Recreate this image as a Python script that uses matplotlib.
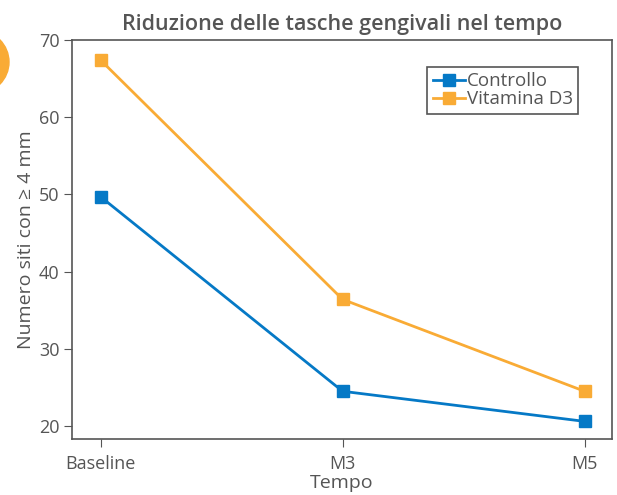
import matplotlib
matplotlib.use("Agg")
import matplotlib.pyplot as plt
from matplotlib.patches import Circle

# data
tempi = ["Baseline", "M3", "M5"]
controllo = [49.7, 24.5, 20.6]
vitamina_d3 = [67.4, 36.4, 24.5]

blu = "#0579c6"
arancio = "#f9ab35"
grigio = "#555555"

plt.rcParams['font.family'] = ['Open Sans', 'DejaVu Sans']
plt.rcParams['text.color'] = grigio
plt.rcParams['axes.labelcolor'] = grigio
plt.rcParams['xtick.color'] = grigio
plt.rcParams['ytick.color'] = grigio

fig = plt.figure(figsize=(6.17, 4.95), dpi=100)
ax = fig.add_axes([72 / 617, 1 - 439.3 / 495, 540 / 617, 399.3 / 495])

x = list(range(len(tempi)))
ax.plot(x, controllo, marker='s', markersize=8, color=blu, linewidth=2, label="Controllo")
ax.plot(x, vitamina_d3, marker='s', markersize=8, color=arancio, linewidth=2, label="Vitamina D3")

ax.set_xlim(-0.118, 2.113)
ax.set_ylim(18.28, 70)
ax.set_yticks([20, 30, 40, 50, 60, 70])
ax.set_xticks(x)
ax.set_xticklabels(tempi)
ax.tick_params(labelsize=13, length=6, color=grigio)
ax.tick_params(axis='x', pad=5)
ax.tick_params(axis='y', pad=3)
for s in ax.spines.values():
    s.set_color(grigio)
    s.set_linewidth(1.2)

ax.set_xlabel("Tempo", fontsize=14, labelpad=1)
ax.set_ylabel("Numero siti con ≥ 4 mm", fontsize=14, labelpad=3)
ax.set_title("Riduzione delle tasche gengivali nel tempo", fontsize=15.5,
             fontweight='semibold', pad=7)

leg = ax.legend(loc='upper right', bbox_to_anchor=(0.9376, 0.933), fontsize=13.5,
                fancybox=False, framealpha=1, edgecolor=grigio, borderaxespad=0,
                handlelength=1.7, handletextpad=0.1, borderpad=0.3, labelspacing=0.0)
leg.get_frame().set_linewidth(1.2)

# decorative circle cut by the left edge
fig.patches.append(Circle((-0.224, 4.33), 0.314, transform=fig.dpi_scale_trans,
                          color=arancio, zorder=0))

fig.savefig("out.png", dpi=100)
